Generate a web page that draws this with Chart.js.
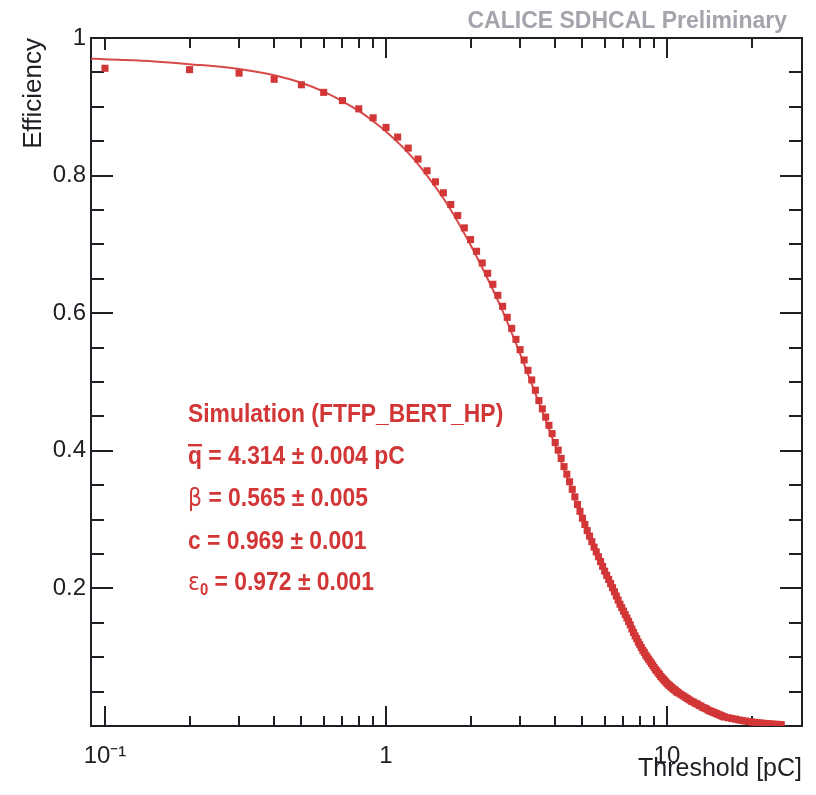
<!DOCTYPE html>
<html><head><meta charset="utf-8">
<script src="https://cdn.jsdelivr.net/npm/chart.js@4/dist/chart.umd.min.js"></script>
<style>html,body{margin:0;padding:0;background:#fff}canvas{display:block}</style>
</head><body>
<canvas id="c" width="816" height="795"></canvas>
<script>
// ---- data ----
const thresholds = [
 0.1,0.2,0.3,0.4,0.5,0.6,0.7,0.8,0.9,1.0,
 1.1,1.2,1.3,1.4,1.5,1.6,1.7,1.8,1.9,2.0,
 2.1,2.2,2.3,2.4,2.5,2.6,2.7,2.8,2.9,3.0,
 3.1,3.2,3.3,3.4,3.5,3.6,3.7,3.8,3.9,4.0,
 4.1,4.2,4.3,4.4,4.5,4.6,4.7,4.8,4.9,5.0,
 5.1,5.2,5.3,5.4,5.5,5.6,5.7,5.8,5.9,6.0,
 6.1,6.2,6.3,6.4,6.5,6.6,6.7,6.8,6.9,7.0,
 7.1,7.2,7.3,7.4,7.5,7.6,7.7,7.8,7.9,8.0,
 8.1,8.2,8.3,8.4,8.5,8.6,8.7,8.8,8.9,9.0,
 9.1,9.2,9.3,9.4,9.5,9.6,9.7,9.8,9.9,10.0,
 10.1,10.2,10.3,10.4,10.5,10.6,10.7,10.8,10.9,11.0,
 11.2,11.4,11.6,11.8,12.0,12.2,12.4,12.6,12.8,13.0,
 13.2,13.4,13.6,13.8,14.0,14.2,14.4,14.6,14.8,15.0,
 15.2,15.4,15.6,15.8,16.0,
 16.5,17.0,17.5,18.0,18.5,19.0,19.5,20.0,20.5,21.0,
 21.5,22.0,22.5,23.0,23.5,24.0,24.5,25.0,25.5
];
const efficiency = [
 0.956,0.954,0.949,0.940,0.932,0.921,0.909,0.897,0.884,0.870,
 0.856,0.840,0.824,0.807,0.791,0.775,0.758,0.742,0.724,0.707,
 0.690,0.673,0.658,0.642,0.626,0.610,0.594,0.578,0.562,0.547,
 0.532,0.517,0.503,0.488,0.473,0.461,0.449,0.437,0.425,0.412,
 0.401,0.389,0.377,0.366,0.355,0.344,0.333,0.322,0.312,0.302,
 0.293,0.284,0.276,0.268,0.260,0.253,0.246,0.239,0.232,0.225,
 0.219,0.213,0.207,0.201,0.195,0.189,0.183,0.177,0.172,0.167,
 0.162,0.157,0.152,0.147,0.141,0.136,0.131,0.127,0.122,0.118,
 0.114,0.110,0.107,0.103,0.100,0.097,0.094,0.091,0.088,0.085,
 0.082,0.080,0.077,0.075,0.072,0.070,0.068,0.066,0.064,0.062,
 0.060,0.059,0.057,0.056,0.054,0.053,0.052,0.050,0.049,0.048,
 0.046,0.044,0.042,0.040,0.038,0.036,0.035,0.033,0.032,0.030,
 0.029,0.027,0.026,0.025,0.023,0.022,0.021,0.020,0.019,0.018,
 0.017,0.016,0.015,0.014,0.013,
 0.012,0.011,0.010,0.0088,0.0080,0.0072,0.0065,0.0059,0.0053,0.0048,
 0.0043,0.0039,0.0035,0.0032,0.0029,0.0026,0.0024,0.0022,0.0020
];
const fitX = [0.089,0.1,0.15,0.2,0.3,0.4,0.5,0.6,0.7,0.8,0.9,1.0,1.2,1.4,1.6,1.8,2.0,2.3,2.6,3.0,3.5,4.0,4.5,5.0,5.5,6.0,6.5,7.0,8.0,9.0,10,12,15,20,25.5];
const fitY = [0.970,0.969,0.966,0.962,0.955,0.946,0.935,0.922,0.908,0.894,0.879,0.864,0.833,0.800,0.767,0.733,0.699,0.650,0.603,0.541,0.470,0.408,0.352,0.300,0.258,0.224,0.194,0.166,0.117,0.084,0.061,0.037,0.017,0.0058,0.002];

const xTickValues = [0.1, 1, 10];
const xTickLabels = ['10\u207B\u00B9', '1', '10'];
const xMinorTicks = [0.2,0.3,0.4,0.5,0.6,0.7,0.8,0.9,2,3,4,5,6,7,8,9,20];
const yTickValues = [0.2, 0.4, 0.6, 0.8, 1];
const yTickLabels = ['0.2', '0.4', '0.6', '0.8', '1'];
const yMinorTicks = [0.05,0.1,0.15,0.25,0.3,0.35,0.45,0.5,0.55,0.65,0.7,0.75,0.85,0.9,0.95];

const titleText = 'CALICE SDHCAL Preliminary';
const xTitle = 'Threshold [pC]';
const yTitle = 'Efficiency';
const fitLabel = 'Simulation (FTFP_BERT_HP)';
const fitSymbols = ['q', '\u03B2', 'c', '\u03B5'];
const fitSubscripts = ['', '', '', '0'];
const fitValues = [' = 4.314 \u00B1 0.004 pC', ' = 0.565 \u00B1 0.005', ' = 0.969 \u00B1 0.001', ' = 0.972 \u00B1 0.001'];

// ---- drawing ----
const FONT = '"Liberation Sans", Arial, Helvetica, sans-serif';
const AXIS_COLOR = '#1e1e24';
const RED = '#d23636';

const frameAndTicks = {
  id: 'frameAndTicks',
  beforeDatasetsDraw(chart) {
    const {ctx, chartArea: a, scales: {x, y}} = chart;
    ctx.save();
    ctx.strokeStyle = AXIS_COLOR;
    ctx.lineWidth = 2;
    ctx.beginPath();
    const xt = (v, lenB, lenT) => {
      const px = Math.round(x.getPixelForValue(v));
      ctx.moveTo(px, a.bottom); ctx.lineTo(px, a.bottom - lenB);
      ctx.moveTo(px, a.top); ctx.lineTo(px, a.top + lenT);
    };
    xTickValues.forEach((v, i) => xt(v, 20, i === 0 ? 12 : 20));
    xMinorTicks.forEach(v => xt(v, 10, 10));
    const yt = (v, len) => {
      const py = Math.round(y.getPixelForValue(v));
      ctx.moveTo(a.left, py); ctx.lineTo(a.left + len, py);
      ctx.moveTo(a.right, py); ctx.lineTo(a.right - len, py);
    };
    yTickValues.forEach(v => yt(v, 22));
    yMinorTicks.forEach(v => yt(v, 13));
    ctx.stroke();
    ctx.strokeRect(a.left, a.top, a.right - a.left, a.bottom - a.top);
    ctx.restore();
  }
};

const textLayer = {
  id: 'textLayer',
  afterDraw(chart) {
    const ctx = chart.ctx;
    ctx.save();
    ctx.textBaseline = 'alphabetic';
    // header
    ctx.font = 'bold 23px ' + FONT;
    ctx.fillStyle = '#a4a4ac';
    ctx.textAlign = 'right';
    ctx.fillText(titleText, 787, 28);
    // fit results (slightly condensed like the original)
    ctx.textAlign = 'left';
    ctx.fillStyle = RED;
    const x0 = 188;
    const sx = 0.88;
    const base = [422, 464, 506, 549, 590];
    const bold = 'bold 26px ' + FONT;
    const drawLine = (yb, fn) => {
      ctx.save();
      ctx.translate(x0, yb);
      ctx.scale(sx, 1);
      fn();
      ctx.restore();
    };
    drawLine(base[0], () => { ctx.font = bold; ctx.fillText(fitLabel, 0, 0); });
    fitSymbols.forEach((s, i) => {
      drawLine(base[i + 1], () => {
        let xx = 0;
        if (s === 'q' || s === 'c') {
          ctx.font = bold;
          const w = ctx.measureText(s).width;
          ctx.fillText(s, xx, 0);
          if (s === 'q') ctx.fillRect(xx, -20, w, 2.4);
          xx += w;
        } else {
          ctx.font = '25px "DejaVu Sans", ' + FONT;
          ctx.fillText(s, xx, 0);
          xx += ctx.measureText(s).width;
        }
        if (fitSubscripts[i]) {
          ctx.font = 'bold 17px ' + FONT;
          ctx.fillText(fitSubscripts[i], xx, 5);
          xx += ctx.measureText(fitSubscripts[i]).width;
        }
        ctx.font = bold;
        ctx.fillText(fitValues[i], xx, 0);
      });
    });
    ctx.restore();
  }
};

const markerPoints = thresholds.map((t, i) => ({x: t, y: efficiency[i]}));
const fitPoints = fitX.map((t, i) => ({x: t, y: fitY[i]}));

new Chart(document.getElementById('c'), {
  type: 'scatter',
  data: {
    datasets: [
      {
        label: 'Fit',
        data: fitPoints,
        showLine: true,
        borderColor: '#d84a4a',
        borderWidth: 2,
        pointRadius: 0,
        cubicInterpolationMode: 'monotone',
        order: 2
      },
      {
        label: 'Simulation (FTFP_BERT_HP)',
        data: markerPoints,
        showLine: false,
        pointStyle: 'rect',
        pointRadius: 5,
        backgroundColor: RED,
        borderWidth: 0,
        order: 1
      }
    ]
  },
  options: {
    responsive: false,
    animation: false,
    devicePixelRatio: 1,
    layout: {padding: {top: 38, right: 14, left: 0, bottom: 0}},
    plugins: {legend: {display: false}, tooltip: {enabled: false}},
    scales: {
      x: {
        type: 'logarithmic',
        min: 0.08917,
        max: 30.22,
        grid: {display: false, drawTicks: false},
        border: {display: false},
        afterBuildTicks: s => { s.ticks = xTickValues.map(v => ({value: v, major: true})); },
        afterFit: s => { s.height = 69; },
        ticks: {
          autoSkip: false, maxRotation: 0, padding: 16,
          color: AXIS_COLOR,
          font: {family: FONT, size: 24},
          callback: (v, i) => xTickLabels[i]
        },
        title: {
          display: true, text: xTitle, align: 'end', color: AXIS_COLOR,
          font: {family: FONT, size: 25}, padding: {top: 0, bottom: 11}
        }
      },
      y: {
        type: 'linear',
        min: 0, max: 1,
        grid: {display: false, drawTicks: false},
        border: {display: false},
        afterBuildTicks: s => { s.ticks = yTickValues.map(v => ({value: v})); },
        afterFit: s => { s.width = 91; },
        ticks: {
          padding: 5,
          color: AXIS_COLOR,
          font: {family: FONT, size: 24},
          callback: (v, i) => yTickLabels[i]
        },
        title: {
          display: true, text: yTitle, align: 'end', color: AXIS_COLOR,
          font: {family: FONT, size: 26}, padding: {top: 18, bottom: 0}
        }
      }
    }
  },
  plugins: [frameAndTicks, textLayer]
});
</script>
</body></html>
